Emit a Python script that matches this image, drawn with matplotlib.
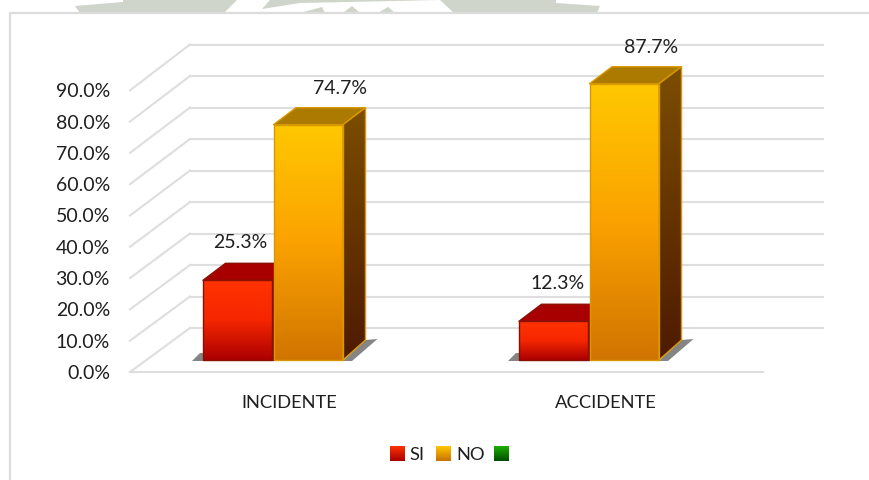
import numpy as np
import matplotlib
matplotlib.use("Agg")
import matplotlib.pyplot as plt
from matplotlib.colors import LinearSegmentedColormap as LSC
from matplotlib.patches import Polygon, Rectangle

categories = ["INCIDENTE", "ACCIDENTE"]
si_values = [25.3, 12.3]
no_values = [74.7, 87.7]
series_names = ["SI", "NO", ""]
y_ticks = [0, 10, 20, 30, 40, 50, 60, 70, 80, 90]

plt.rcParams["font.family"] = ["Lato", "DejaVu Sans"]
W, H = 869, 480
PX_X, X0 = 316.0, 273.0      # pixels per category, pixel of category 0 centre
PX_Y, Y0 = 3.15, 360.0       # pixels per percent, pixel of bar base

fig = plt.figure(figsize=(W / 100, H / 100), dpi=100)
ax = fig.add_axes([0, 0, 1, 1])
ax.axis("off")
xlim = ((0 - X0) / PX_X, (W - X0) / PX_X)
ylim = ((Y0 - H) / PX_Y, (Y0 - 0) / PX_Y)

def dx(px): return px / PX_X
def dy(px): return px / PX_Y
def P(x, y): return ((x - X0) / PX_X, (Y0 - y) / PX_Y)

# page decoration: faded banner and frame
ax.add_patch(Polygon([P(75, 6), P(123, 2), P(123, 0), P(556, 0), P(556, 3), P(600, 6), P(597, 13), P(80, 13)],
                     fc="#cfd5ca", ec="none", zorder=1))
ax.add_patch(Polygon([P(224, 13), P(237, 0), P(270, 0), P(262, 9), P(300, 3), P(395, 1), P(440, 0), P(454, 13), P(395, 13),
                      P(388, 7), P(378, 13), P(360, 13), P(352, 6), P(343, 13), P(325, 13), P(322, 7), P(300, 13)],
                     fc="white", ec="none", zorder=1))
ax.plot(*zip(P(10, H), P(10, 13), P(W, 13)), color="#dcdcdc", lw=1.6, zorder=2, solid_joinstyle="miter")

# 3-D frame
front_x0, front_x1, back_x0, back_x1 = 130, 763, 190, 823
front_y0, back_y0 = 372, 328
FRONT_STEP = 3.13
GRID = "#dedede"
for t in y_ticks:
    yf = front_y0 - t * FRONT_STEP
    yb = back_y0 - t * PX_Y
    ax.plot(*zip(P(front_x0, yf), P(back_x0, yb)), color=GRID, lw=1.5, zorder=2)
    ax.plot(*zip(P(back_x0, yb), P(back_x1, yb)), color=GRID, lw=1.5, zorder=2)
ax.plot(*zip(P(front_x0, front_y0), P(front_x1, front_y0)), color=GRID, lw=1.5, zorder=2)

def grad(colors, n=256):
    return LSC.from_list("g", colors)(np.linspace(0, 1, n))[:, None, :]

BAR_W = 69.5 / PX_X
DEP_X, DEP_Y, DEP_Y_BASE = dx(22.5), dy(17), dy(20)

def bar(x_left, v, front, top, side, edge, z):
    x_right = x_left + BAR_W
    im = ax.imshow(grad(front), extent=(x_left, x_right, 0, v), origin="upper", aspect="auto",
                   zorder=z, interpolation="bilinear")
    im.set_clip_path(Rectangle((x_left, 0), BAR_W, v, transform=ax.transData))
    ax.add_patch(Polygon([(x_left, v), (x_left + DEP_X, v + DEP_Y), (x_right + DEP_X, v + DEP_Y), (x_right, v)],
                         fc=top, ec=edge, lw=1.0, joinstyle="round", zorder=z))
    sp = Polygon([(x_right, 0), (x_right + DEP_X, DEP_Y_BASE), (x_right + DEP_X, v + DEP_Y), (x_right, v)],
                 fc="none", ec=edge, lw=1.0, joinstyle="round", transform=ax.transData, zorder=z + 0.2)
    ax.add_patch(sp)
    im2 = ax.imshow(grad(side), extent=(x_right, x_right + DEP_X, 0, v + DEP_Y), origin="upper", aspect="auto",
                    zorder=z, interpolation="bilinear")
    im2.set_clip_path(sp)
    ax.add_patch(Rectangle((x_left, 0), BAR_W, v, fc="none", ec=edge, lw=1.0, joinstyle="round", zorder=z + 0.3))

RED_F = ["#ff3300", "#f52600", "#aa0000"]
RED_S = ["#7a0000", "#5a0000"]
RED_E = "#8a1000"
NO_F = ["#ffc800", "#fba200", "#d07400"]
NO_S = ["#7c4e00", "#4e1a00"]
NO_E = "#d89800"

label_x_si = [37, 39]
label_x_no = [66.5, 61.5]
label_gap = [38, 36.5]
TEXT_SHIFT = 1.5

for i, cat in enumerate(categories):
    x_si = i - BAR_W - dx(0.5)
    x_no = i + dx(0.5)
    r = i + BAR_W + dx(0.5)
    # floor shadows
    ax.add_patch(Polygon([(r, -dy(1)), (r + DEP_X, DEP_Y_BASE), (r + DEP_X + dx(12), DEP_Y_BASE + dy(1)), (r + dx(9), -dy(1))],
                         fc="#858585", ec="none", zorder=3))
    ax.add_patch(Polygon([(x_si, -dy(1)), (x_si - dx(11), -dy(1)), (x_si - dx(3), dy(7)), (x_si, dy(7))],
                         fc="#858585", ec="none", zorder=3))
    bar(x_si, si_values[i], RED_F, "#a80000", RED_S, RED_E, 4)
    bar(x_no, no_values[i], NO_F, "#ad7a00", NO_S, NO_E, 5)
    ax.text(x_si + dx(label_x_si[i]), si_values[i] + dy(label_gap[0]), f"{si_values[i]:.1f}%", fontsize=14,
            color="#1f1f1f", ha="center", va="center", zorder=8)
    ax.text(x_no + dx(label_x_no[i]), no_values[i] + dy(label_gap[1]), f"{no_values[i]:.1f}%", fontsize=14,
            color="#1f1f1f", ha="center", va="center", zorder=8)
    ax.text(i + dx(16.5), (Y0 - 401 - TEXT_SHIFT) / PX_Y, cat, fontsize=13.2, color="#1f1f1f", ha="center", va="center", zorder=8)

for t in y_ticks:
    x, y = P(110, front_y0 - t * FRONT_STEP + TEXT_SHIFT)
    ax.text(x, y, f"{t:.1f}%", fontsize=14, color="#1f1f1f", ha="right", va="center", zorder=8)

# legend
swatches = [("#ff3300", "#a80000"), ("#ffc800", "#c87000"), ("#1faf00", "#004d00")]
for (name, (c1, c2), sx, tx) in zip(series_names, swatches, [390, 436, 494], [409, 456, 0]):
    x0, y1 = P(sx, 461)
    x1, y0 = P(sx + 15, 446)[0], P(sx, 446)[1]
    ax.imshow(grad([c1, c2]), extent=(x0, x1, y1, y0), origin="upper", aspect="auto", zorder=6)
    if name:
        tx_, ty_ = P(tx, 453 + TEXT_SHIFT)
        ax.text(tx_, ty_, name, fontsize=13.2, color="#1f1f1f", ha="left", va="center", zorder=8)

ax.set_xlim(*xlim)
ax.set_ylim(*ylim)
fig.savefig("out.png", dpi=100, facecolor="white")
